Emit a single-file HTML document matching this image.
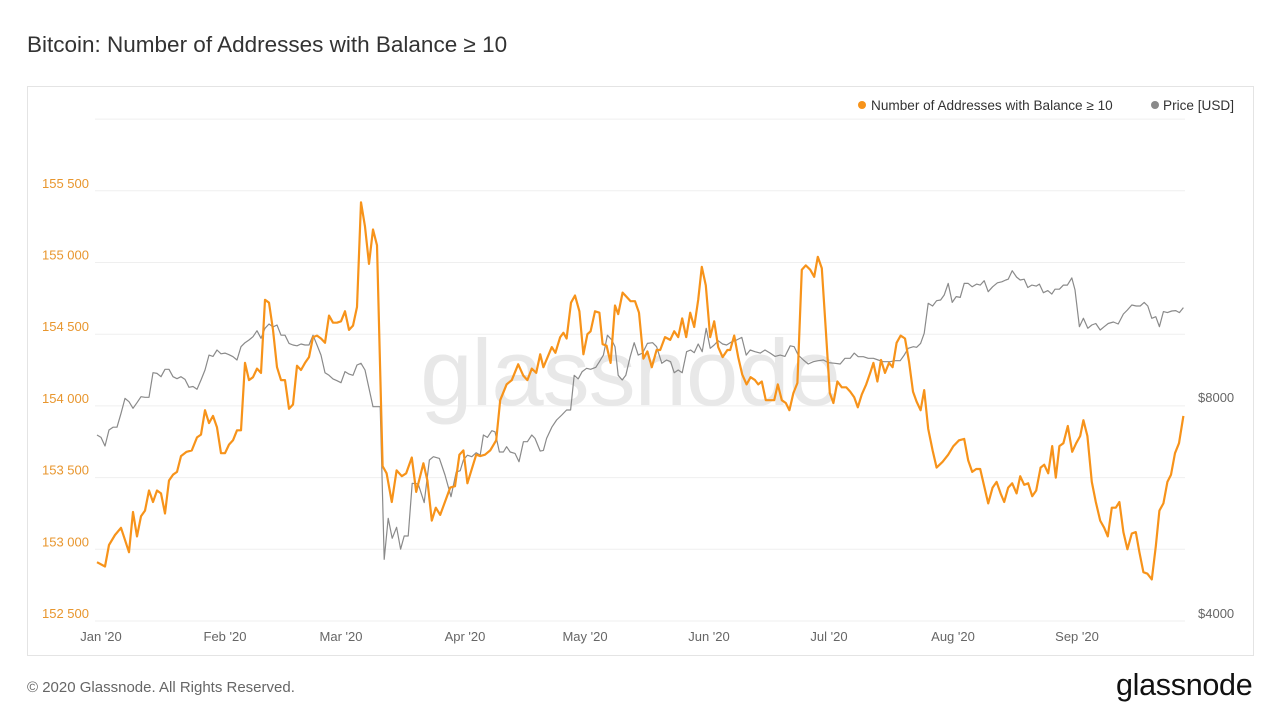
<!DOCTYPE html>
<html><head><meta charset="utf-8">
<style>
body{margin:0;background:#fff;font-family:"Liberation Sans",sans-serif;}
#wrap{position:relative;width:1280px;height:720px;overflow:hidden;}
</style></head>
<body>
<div id="wrap">
<div style="position:absolute;left:27px;top:32px;font-size:22.5px;color:#333;">Bitcoin: Number of Addresses with Balance ≥ 10</div>
<div style="position:absolute;left:27px;top:86px;width:1225px;height:568px;border:1px solid #e4e4e4;"></div>
<svg id="chart" width="1280" height="720" style="position:absolute;left:0;top:0;"></svg>
<div style="position:absolute;left:27px;top:679px;font-size:15px;color:#666;">© 2020 Glassnode. All Rights Reserved.</div>
<div style="position:absolute;left:1116px;top:668px;font-size:30.5px;color:#111;letter-spacing:-0.3px;">glassnode</div>
</div>
<script>
const addrDays=[0,2,3,4.5,6,8,9,10,11,12,13,14,15,16,17,18,19,20,21,22.4,23.7,25,26,27,28,29,30,31,32,33,34,35,36,37,38,39,40,41,42,43,44,45,46,47,48,49,50,51,52,53,54,55,56,57,58,59,60,61,62,63,64,65,66,67,68,69,70,71.4,72.4,73.7,74.9,76.2,77.3,78.7,79.8,81.6,82.6,83.7,84.7,85.8,88.3,89.5,90.6,91.6,92.6,94.8,95.8,97,98.3,99.8,100.8,102.4,103.7,105.3,106.6,107.6,108.7,109.8,110.8,111.6,113.7,114.6,115.8,116.6,117.4,118.5,119.5,120.6,121.6,122.6,123.4,124.5,125.6,126.4,127.4,128.4,129.5,130.3,131.4,132.4,133.4,134.5,135.5,136.6,137.6,138.7,139.9,140.8,142,143.3,144.3,145.3,146.3,147.3,148.3,149.3,150.3,151.2,152.2,153.3,154.3,155.3,156.4,157.6,158.3,159.3,160.3,161.3,162.4,163.4,164.5,165.3,166.2,167.2,168.3,169.3,170.2,171.2,172.2,173.1,174.1,175.1,176.2,177.2,178.3,179.3,180.2,181.2,182.2,183.2,184.1,185.1,186.2,187.3,188.3,189.3,190.2,191.2,192.3,193.3,194.1,195.1,196,197,198,198.9,199.9,200.9,202,203,204,204.9,205.9,206.8,207.8,208.9,209.9,211.4,212.8,214.1,215.5,216.8,217.8,218.8,219.8,220.8,221.8,222.8,223.9,224.9,225.9,226.8,227.8,228.8,229.9,230.8,231.8,232.8,233.8,234.8,235.9,236.8,237.8,238.8,239.7,240.6,241.6,242.7,243.8,244.8,245.8,246.6,247.6,248.7,249.7,250.8,251.8,252.7,253.7,254.7,255.6,256.6,257.6,258.7,259.7,260.6,261.6,262.6,263.7,264.7,265.6,266.6,267.6,268.5,269.5,270.5,271.6];
const addrValues=[152910,152880,153030,153100,153150,152980,153260,153090,153230,153270,153410,153330,153410,153390,153250,153480,153520,153540,153650,153680,153690,153780,153800,153970,153880,153930,153850,153670,153670,153730,153760,153830,153830,154300,154180,154200,154260,154230,154740,154720,154530,154270,154180,154180,153980,154010,154280,154250,154300,154340,154480,154490,154470,154440,154630,154580,154580,154590,154660,154530,154560,154690,155420,155250,154990,155230,155120,153580,153530,153330,153550,153510,153530,153640,153400,153600,153480,153200,153290,153240,153430,153440,153660,153690,153460,153660,153650,153660,153690,153760,154040,154150,154180,154290,154210,154180,154260,154230,154360,154270,154410,154370,154480,154510,154470,154720,154770,154660,154360,154500,154520,154660,154650,154430,154420,154300,154700,154640,154790,154760,154730,154730,154650,154330,154380,154270,154390,154390,154480,154460,154520,154480,154610,154480,154650,154550,154740,154970,154840,154480,154590,154410,154340,154390,154390,154490,154340,154220,154150,154200,154180,154150,154170,154040,154040,154040,154150,154040,154020,153970,154090,154160,154950,154980,154950,154900,155040,154960,154530,154090,154020,154170,154130,154130,154100,154060,153990,154080,154150,154230,154300,154170,154320,154230,154300,154270,154440,154490,154470,154310,154100,154030,153970,154110,153840,153690,153570,153610,153660,153720,153760,153770,153620,153540,153560,153560,153440,153320,153430,153470,153390,153330,153430,153460,153390,153510,153450,153460,153370,153410,153570,153590,153530,153720,153500,153720,153740,153860,153680,153740,153790,153900,153790,153470,153330,153200,153150,153090,153290,153290,153330,153120,153000,153110,153120,152980,152840,152830,152790,153020,153270,153320,153470,153520,153670,153740,153930];
const priceDays=[0,1,2,3,4,5,6,7,8,9,10,11,12,13,14,15,16,17,18,19,20,21,22,23,24,25,26,27,28,29,30,31,32,33,34,35,36,37,38,39,40,41,42,43,44,45,46,47,48,49,50,51,52,53,54,55,56,57,58,59,60,61,62,63,64,65,66,67,69,70.8,71.8,72.8,73.8,74.9,75.9,76.8,77.8,78.8,80.3,81.8,83.1,84.1,85.6,87,88.5,89.8,90.8,91.6,92.6,93.7,94.8,95.8,96.6,97.6,98.7,99.5,100.6,101.6,102.4,103.3,104.5,105.5,106.6,107.6,108.7,109.5,110.8,111.6,112.4,113.7,114.9,116.2,117.4,118.4,119.3,120.3,121.3,122.4,123.4,124.7,125.6,126.6,127.6,128.7,129.5,130.3,131.3,132.2,133.3,134.3,135.3,136.4,137.6,138.9,139.9,141.2,142.4,143.4,144.3,145.3,146.3,147.4,148.4,149.3,150.3,151.3,152.3,153.3,154.3,155.3,156.4,157.4,158.7,159.9,161.2,162.3,163.3,164.5,165.8,167,168.3,169.5,170.8,172,173.3,174.3,175.3,176.6,177.8,179.1,180.3,181.6,182.8,184.5,185.8,187,188.3,189.3,190.3,191.6,192.8,194.1,195.3,196.6,198.3,199.5,200.8,201.8,202.8,204.1,204.9,205.9,206.8,207.8,208.9,209.9,210.9,211.8,212.8,213.8,214.8,215.8,216.8,217.8,218.8,219.9,220.8,221.8,222.8,223.9,225.1,226.2,227.2,227.8,228.8,229.9,230.8,231.8,232.7,233.7,234.8,235.6,236.6,237.7,238.7,239.5,240.6,241.6,242.6,243.7,244.5,245.6,246.6,247.7,248.7,249.7,250.8,251.8,252.8,254.1,255.3,256.6,257.6,258.7,259.8,260.8,261.8,262.7,263.7,264.7,265.6,266.6,267.6,268.7,269.7,270.6,271.6];
const priceValues=[7265,7210,7014,7384,7449,7449,7787,8172,8085,7915,8060,8217,8200,8200,8875,8855,8760,8970,8970,8760,8705,8760,8685,8467,8490,8414,8668,8950,9390,9350,9545,9430,9450,9400,9340,9243,9646,9770,9855,9960,10155,9910,10232,10375,10280,10340,10010,10010,9750,9700,9675,9730,9700,9700,10010,9700,9390,8875,8800,8700,8650,8594,8905,8835,8800,9095,9145,8950,7957,7957,4876,5561,5216,5404,5036,5254,5254,6222,6210,5848,6705,6778,6740,6391,5960,6450,6480,6705,6810,6778,6864,6810,7265,7210,7367,7340,6880,6880,6997,6880,6850,6669,7111,7111,7265,7188,6900,6915,7188,7450,7625,7748,7872,7872,8800,8700,8905,9001,8970,9030,9193,9390,10010,9855,9646,8800,8668,8800,9340,9770,9390,9450,9750,9770,9646,9145,9243,9193,8875,8950,8875,9493,9545,9462,9729,9493,10232,9597,9700,9834,9729,9700,9803,9855,9939,9390,9545,9493,9450,9545,9450,9350,9390,9350,9675,9646,9390,9243,9126,9193,9223,9243,9165,9145,9126,9293,9293,9450,9340,9340,9293,9293,9243,9193,9193,9223,9223,9390,9597,9646,9626,9750,10070,11088,10992,11180,11205,11388,11819,11120,11328,11300,11819,11819,11692,11790,11755,11921,11508,11692,11840,11880,11949,11980,12310,12060,11949,11980,11665,11755,11718,11790,11470,11550,11420,11600,11600,11755,11755,12030,11575,10285,10565,10232,10340,10390,10177,10285,10390,10440,10375,10712,10852,11028,10992,10992,11120,10992,10565,10620,10285,10795,10760,10815,10830,10760,10935];
const leftTicks=[152500,153000,153500,154000,154500,155000,155500];
const leftTickLabels=["152 500","153 000","153 500","154 000","154 500","155 000","155 500"];
const rightTicks=[4000,8000];
const rightTickLabels=["$4000","$8000"];
const monthDays=[0,31,60,91,121,152,182,213,244];
const monthLabels=["Jan '20","Feb '20","Mar '20","Apr '20","May '20","Jun '20","Jul '20","Aug '20","Sep '20"];

const NS="http://www.w3.org/2000/svg";
const svg=document.getElementById('chart');
const X0=97, DX=4, PL=95, PR=1185;
const xS=d=>X0+DX*d;
const yL=v=>621-(v-152500)/500*71.7;
const yR=p=>621-Math.log2(p/4000)*216;
function mk(tag,attrs){const e=document.createElementNS(NS,tag);for(const k in attrs)e.setAttribute(k,attrs[k]);svg.appendChild(e);return e;}

for(let i=0;i<8;i++){
  const gy=621-i*71.7;
  const g=mk('line',{x1:PL,x2:PR,y1:gy,y2:gy,stroke:'#efefef','stroke-width':1});
  
  
}
const wm=mk('text',{x:630,y:405,'text-anchor':'middle','font-size':94,fill:'#e8e8e8','font-family':'Liberation Sans, sans-serif','letter-spacing':'-1'});
wm.textContent='glassnode';



leftTicks.forEach((v,i)=>{
  const t=mk('text',{x:42,y:yL(v)-3,'font-size':13,fill:'#e8962e','font-family':'Liberation Sans, sans-serif'});
  t.textContent=leftTickLabels[i];
  
  
});
rightTicks.forEach((v,i)=>{
  const t=mk('text',{x:1198,y:yR(v)-3,'font-size':13,fill:'#666','font-family':'Liberation Sans, sans-serif'});
  t.textContent=rightTickLabels[i];
  
  
});
monthDays.forEach((d,i)=>{
  const t=mk('text',{x:xS(d)+4,y:641,'text-anchor':'middle','font-size':13,fill:'#666','font-family':'Liberation Sans, sans-serif'});
  t.textContent=monthLabels[i];
  
  
});

const pp=priceDays.map((d,i)=>xS(d).toFixed(1)+','+yR(priceValues[i]).toFixed(1)).join(' ');
const pl=mk('polyline',{points:pp,fill:'none',stroke:'#8a8a8a','stroke-width':1.2,'stroke-linejoin':'round'});



const ap=addrDays.map((d,i)=>xS(d).toFixed(1)+','+yL(addrValues[i]).toFixed(1)).join(' ');
const al=mk('polyline',{points:ap,fill:'none',stroke:'#f7931a','stroke-width':2.2,'stroke-linejoin':'round'});



const lc1=mk('circle',{cx:862,cy:105,r:4,fill:'#f7931a'});


const lt1=mk('text',{x:871,y:110,'font-size':13.6,fill:'#333','font-family':'Liberation Sans, sans-serif'});
lt1.textContent='Number of Addresses with Balance ≥ 10';


const lc2=mk('circle',{cx:1155,cy:105,r:4,fill:'#8a8a8a'});


const lt2=mk('text',{x:1163,y:110,'font-size':13.6,fill:'#333','font-family':'Liberation Sans, sans-serif'});
lt2.textContent='Price [USD]';


</script>
</body></html>
